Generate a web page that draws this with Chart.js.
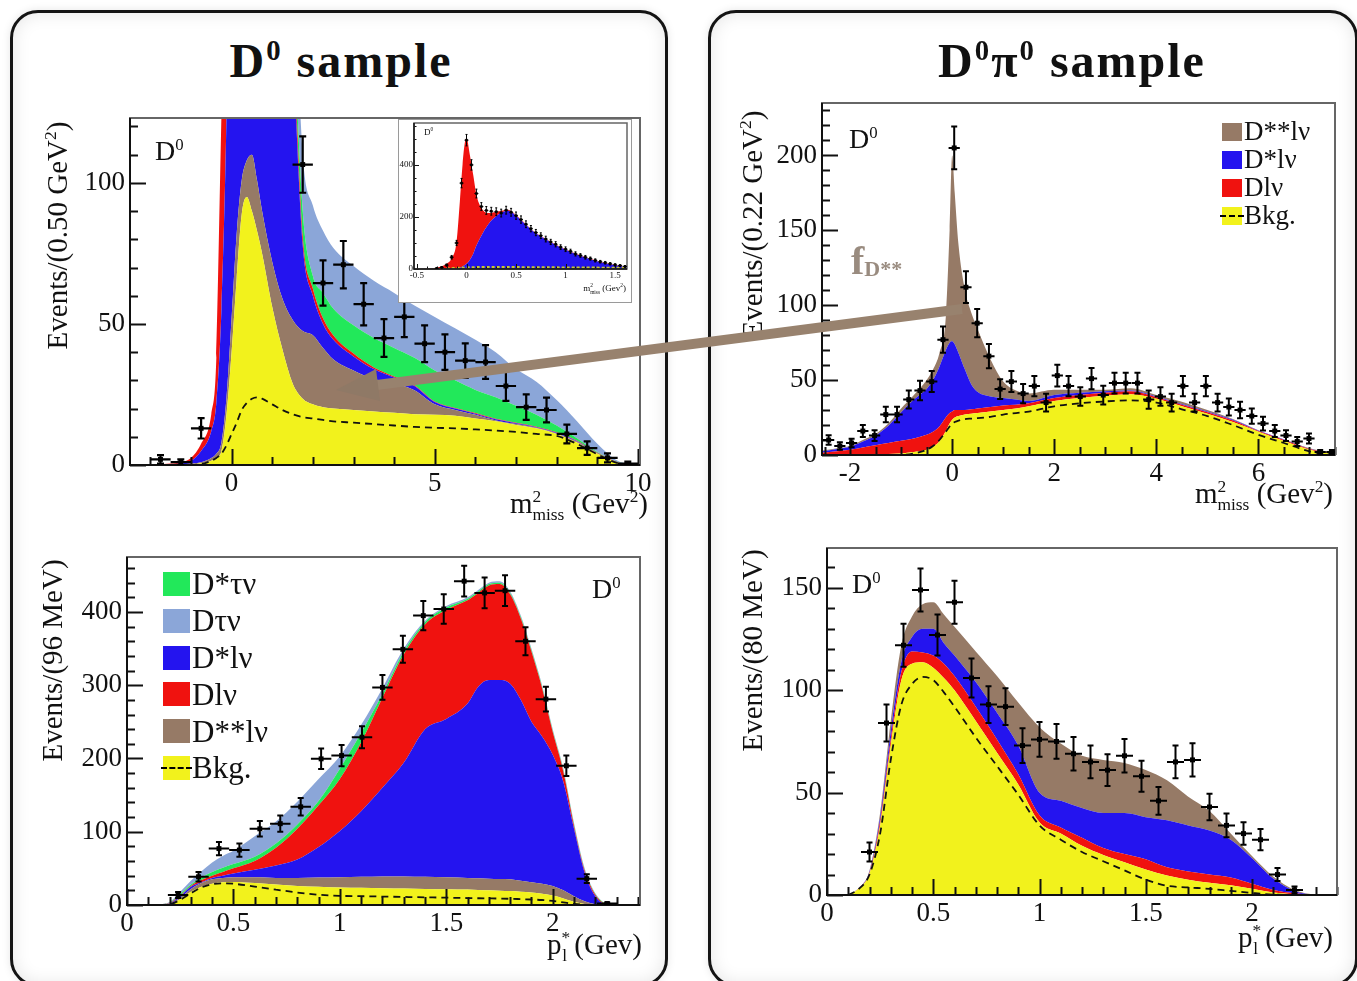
<!DOCTYPE html>
<html>
<head>
<meta charset="utf-8">
<title>D0 and D0pi0 samples</title>
<script src="https://cdn.jsdelivr.net/npm/chart.js@4.4.1/dist/chart.umd.min.js"></script>
<style>
html, body { margin: 0; padding: 0; background: #fff; }
body { position: relative; width: 1357px; height: 981px; overflow: hidden; font-family: "Liberation Serif", "Times New Roman", serif; color: #111; }
.panel { position: absolute; box-sizing: border-box; border: 3px solid #141414; border-radius: 28px; background: #fff; box-shadow: inset 0 0 18px rgba(0,0,0,0.10), 0 0 8px rgba(0,0,0,0.10); }
canvas { position: absolute; z-index: 1; }
.txt { position: absolute; white-space: nowrap; line-height: 1; z-index: 3; }
sup, sub { line-height: 0; font-size: 0.6em; }
.title { font-size: 48px; font-weight: bold; letter-spacing: 2px; text-align: center; width: 500px; }
.xt { font-size: 29px; text-align: right; }
.yt { font-size: 29px; width: 340px; text-align: center; transform: rotate(-90deg); }
.lab { font-size: 28px; }
#insetBox { position: absolute; box-sizing: border-box; left: 398px; top: 119px; width: 234px; height: 184px; border: 1px solid #9a9a9a; background: #fff; z-index: 2; }
#inset { z-index: 2; }
</style>
</head>
<body>
<div class="panel" style="left:10px;top:10px;width:658px;height:977px"></div>
<div class="panel" style="left:708px;top:10px;width:650px;height:977px"></div>

<canvas id="tl" width="630" height="437" style="left:30px;top:93px"></canvas>
<canvas id="tr" width="633" height="442" style="left:722px;top:78px"></canvas>
<canvas id="bl" width="633" height="438" style="left:27px;top:532px"></canvas>
<canvas id="br" width="630" height="437" style="left:727px;top:523px"></canvas>
<div id="insetBox"></div>
<canvas id="inset" width="232" height="188" style="left:399px;top:113px"></canvas>

<div class="txt title" style="left:91px;top:37px">D<sup>0</sup> sample</div>
<div class="txt title" style="left:822px;top:37px">D<sup>0</sup>π<sup>0</sup> sample</div>

<div class="txt yt" style="left:-113px;top:221px">Events/(0.50 GeV<sup>2</sup>)</div>
<div class="txt yt" style="left:582px;top:210px">Events/(0.22 GeV<sup>2</sup>)</div>
<div class="txt yt" style="left:-118px;top:646px">Events/(96 MeV)</div>
<div class="txt yt" style="left:582px;top:636px">Events/(80 MeV)</div>

<div class="txt xt" style="right:709px;top:489px">m<sup>2</sup><sub style="margin-left:-0.5em">miss</sub> (Gev<sup>2</sup>)</div>
<div class="txt xt" style="right:24px;top:479px">m<sup>2</sup><sub style="margin-left:-0.5em">miss</sub> (Gev<sup>2</sup>)</div>
<div class="txt xt" style="right:715px;top:930px">p<sup>*</sup><sub style="margin-left:-0.45em">l</sub> (Gev)</div>
<div class="txt xt" style="right:24px;top:923px">p<sup>*</sup><sub style="margin-left:-0.45em">l</sub> (Gev)</div>

<div class="txt lab" style="left:155px;top:137px">D<sup>0</sup></div>
<div class="txt lab" style="left:849px;top:125px">D<sup>0</sup></div>
<div class="txt lab" style="left:592px;top:575px">D<sup>0</sup></div>
<div class="txt lab" style="left:852px;top:570px">D<sup>0</sup></div>
<div class="txt" style="left:424px;top:128px;font-size:9px">D<sup>0</sup></div>
<div class="txt" style="right:731px;top:284px;font-size:9px">m<sup>2</sup><sub style="margin-left:-0.5em">miss</sub> (Gev<sup>2</sup>)</div>
<div class="txt" style="left:851px;top:241px;font-size:40px;font-weight:bold;color:rgba(128,110,95,0.8)">f<sub style="font-size:0.55em;vertical-align:-0.1em">D**</sub></div>

<svg width="1357" height="981" style="position:absolute;left:0;top:0;z-index:5;pointer-events:none">
  <line x1="962" y1="309" x2="377" y2="385" stroke="#98826e" stroke-width="10"/>
  <polygon points="336,390 380,401 376,369" fill="#8f7966"/>
</svg>

<script>
// ---------- colours ----------
const cYel = '#f2f21c', cBrown = '#967a66', cBlue = '#2414ef', cRed = '#f0120f', cGreen = '#22e85a', cLBlue = '#8ba6d8';

// ---------- top left: D0 sample, m2miss ----------
const tlX = [-2.5, -2, -1.5, -1.25, -1, -0.75, -0.5, -0.375, -0.25, -0.125, 0, 0.125, 0.25, 0.375, 0.5, 0.625, 0.75, 1, 1.25, 1.5, 1.75, 2, 2.25, 2.5, 3, 3.5, 4, 4.5, 5, 5.5, 6, 6.5, 7, 7.5, 8, 8.5, 9, 9.5, 10];
const tlBkg = [0, 0, 0, 0, 0.2, 0.6, 1.5, 2.5, 5, 18, 40, 66, 89, 95, 90, 83, 75, 56, 41, 29, 23.5, 21.5, 20.5, 20, 19.5, 19, 18.5, 18, 17.8, 17.5, 16.5, 15.5, 14.2, 13, 11, 8, 4, 0.8, 0];
const tlDss = [0, 0, 0, 0.2, 0.5, 1, 2.5, 4, 8, 24, 52, 82, 101, 108, 110, 101, 90, 72, 59, 51.5, 47.5, 46, 41.5, 37.5, 33.5, 30.5, 29, 26.5, 21.5, 19.5, 17.8, 15.8, 14.5, 13.2, 11.2, 8.2, 4.1, 0.85, 0];
const tlDs = [0, 0, 0.2, 0.5, 1.5, 5, 12, 22, 55, 124, 250, 350, 400, 420, 410, 390, 360, 300, 220, 150, 78, 60, 50, 44.5, 38.5, 34, 31, 28, 22.3, 20, 18.2, 16.2, 14.8, 13.4, 11.4, 8.4, 4.2, 0.9, 0];
const tlD = [0, 0.1, 0.5, 1, 2.5, 7.5, 18, 38, 124, 210, 310, 360, 410, 430, 420, 400, 370, 310, 230, 158, 81, 62.5, 52, 46, 39.5, 34.6, 31.4, 28.3, 22.5, 20.2, 18.4, 16.4, 15, 13.6, 11.6, 8.6, 4.3, 1, 0];
const tlDsTau = [0, 0.1, 0.5, 1, 2.5, 7.5, 18, 38, 124, 210, 310, 360, 410, 430, 420, 400, 370, 312, 235, 165, 90, 67, 61, 55.5, 49.5, 45, 41.5, 38, 33.5, 30, 26.6, 24, 21, 17.8, 14, 9.5, 4.6, 1.1, 0];
const tlDTau = [0, 0.1, 0.5, 1, 2.5, 7.5, 18, 38, 124, 210, 310, 360, 410, 430, 420, 400, 370, 330, 260, 190, 110, 92, 83, 77, 70.5, 65.3, 61, 56.5, 52.5, 48.5, 44.4, 40, 34, 29.5, 23, 15.5, 7.5, 1.5, 0];
const tlDash = [0, 0, 0, 0, 0, 0.3, 1.5, 2.5, 4, 7, 11, 15, 19.5, 22, 23.5, 24, 23.5, 21.5, 19.5, 18, 17, 16.5, 16, 15.5, 15, 14.5, 14, 13.5, 13.2, 13, 12.6, 12.2, 11.7, 11, 10.3, 7.5, 3.8, 0.7, 0];
const tlPtX = [-1.75, -1.25, -0.75, 1.75, 2.25, 2.75, 3.25, 3.75, 4.25, 4.75, 5.25, 5.75, 6.25, 6.75, 7.25, 7.75, 8.25, 8.75, 9.25, 9.75];
const tlPtY = [2, 1, 13, 106.5, 64.5, 71, 57, 45, 52.5, 43, 40, 37, 36.5, 28, 20.5, 19.5, 11, 6, 2.5, 0.5];
const tlPtErr = [1.5, 1, 3.6, 10, 8, 8.4, 7.5, 6.7, 7.2, 6.5, 6.3, 6.1, 6, 5.3, 4.5, 4.4, 3.3, 2.4, 1.6, 0.7];
const tlXTicks = [0, 5, 10], tlYTicks = [0, 50, 100];

// ---------- inset: D0 sample, normalisation region ----------
const inX = [-0.53, -0.4, -0.3, -0.2, -0.15, -0.1, -0.067, -0.04, -0.017, 0, 0.033, 0.067, 0.1, 0.15, 0.217, 0.317, 0.417, 0.517, 0.6, 0.683, 0.85, 1.017, 1.183, 1.35, 1.517, 1.62];
const inTotal = [0, 1, 5, 20, 41, 105, 260, 401, 485, 502, 440, 363, 285, 234, 215, 221, 228, 202, 172, 144, 105, 73, 48, 28, 15, 9];
const inBlue = [0, 0, 0, 0, 0, 2, 5, 10, 15, 20, 35, 58, 90, 128, 170, 208, 224, 199, 170, 142, 103, 71, 46, 26, 13, 7];
const inBkgX = [-0.2, 0, 0.2, 0.4, 0.6, 0.8, 1.0, 1.2, 1.4, 1.6];
const inBkgY = [2, 6, 8, 8, 7, 7, 6, 6, 5, 5];
const inPtX = [-0.3, -0.25, -0.2, -0.15, -0.1, -0.05, 0, 0.05, 0.1, 0.15, 0.2, 0.25, 0.3, 0.35, 0.4, 0.45, 0.5, 0.55, 0.6, 0.65, 0.7, 0.75, 0.8, 0.85, 0.9, 0.95, 1.0, 1.05, 1.1, 1.15, 1.2, 1.25, 1.3, 1.35, 1.4, 1.45, 1.5, 1.55, 1.6];
const inPtY = [3, 6, 15, 45, 100, 330, 495, 400, 290, 240, 225, 222, 220, 215, 226, 218, 205, 190, 172, 155, 140, 128, 115, 104, 95, 84, 76, 68, 58, 52, 45, 40, 33, 28, 24, 20, 16, 13, 10];
const inPtErr = [2, 3, 4, 7, 10, 18, 22, 20, 17, 15, 15, 15, 15, 15, 15, 15, 14, 14, 13, 12, 12, 11, 11, 10, 10, 9, 9, 8, 8, 7, 7, 6, 6, 5, 5, 4.5, 4, 3.6, 3.2];
const inXTicks = [-0.5, 0, 0.5, 1, 1.5], inYTicks = [0, 200, 400];

// ---------- top right: D0pi0 sample, m2miss ----------
const trX = [-2.55, -2.25, -2, -1.75, -1.5, -1.25, -1, -0.75, -0.5, -0.375, -0.25, -0.125, -0.05, 0, 0.05, 0.125, 0.25, 0.375, 0.5, 0.75, 1, 1.25, 1.5, 2, 2.5, 3, 3.5, 4, 4.5, 5, 5.5, 6, 6.5, 7, 7.5];
const trBkg = [0.5, 0.5, 0.5, 0.5, 0.5, 0.7, 1, 2, 3.5, 5.5, 9, 16, 21, 23.5, 25, 26, 27, 27.5, 28, 29, 30, 31, 32.5, 36, 38, 39.5, 40.5, 37.5, 32.5, 27.5, 22, 15.5, 9.3, 3.5, 0.5];
const trD = [1.5, 2.5, 3.5, 5, 6.5, 8, 9.5, 11, 13.5, 15.5, 19, 25, 28, 29, 30, 30, 30, 30.5, 31, 32, 33, 33.5, 34.5, 38, 40, 41.5, 42.5, 38.5, 33.5, 28.5, 23, 16, 10, 4, 0.7];
const trDs = [2.5, 4, 5.5, 9, 13, 19.5, 28.5, 37, 44, 50, 59, 70, 75, 76, 74, 68, 57, 47, 42, 39, 38, 37, 36, 40, 41.5, 42.5, 43, 39, 34, 29, 23.5, 16.3, 10.3, 4.2, 0.8];
const trDss = [3, 4.5, 6, 10, 14, 21, 31, 40, 50, 57, 68, 92, 150, 200, 175, 140, 110, 95, 84, 64, 49, 43, 41, 43.5, 43.5, 43.5, 44.5, 40, 35.5, 30, 24, 16.5, 10.5, 4.5, 1];
const trDash = [0, 0, 0, 0, 0, 0, 0, 1, 3.5, 6, 10, 15.5, 19, 21, 22, 23, 24, 24.3, 24.6, 25.5, 27, 28, 29, 32.5, 34.5, 35.8, 36.5, 35, 30.5, 26, 20, 13.5, 8, 2.5, 0];
const trPtX = [-2.42, -2.2, -1.97, -1.75, -1.52, -1.3, -1.08, -0.85, -0.63, -0.4, -0.18, 0.04, 0.27, 0.49, 0.72, 0.94, 1.16, 1.39, 1.61, 1.84, 2.06, 2.28, 2.51, 2.73, 2.96, 3.18, 3.4, 3.63, 3.85, 4.08, 4.3, 4.52, 4.75, 4.97, 5.2, 5.42, 5.64, 5.87, 6.09, 6.32, 6.54, 6.76, 6.99, 7.21, 7.44];
const trPtY = [10, 6, 8, 16, 13, 27, 27, 37, 43, 49, 77, 205, 112, 88, 66, 44, 49, 41, 46, 35, 53, 46, 39, 51, 40, 48, 48, 48, 37, 39, 35, 46, 35, 46, 35, 32, 30, 26, 21, 16, 13, 9, 11, 2, 2];
const trPtErr = [3.2, 2.5, 2.8, 4, 3.6, 5.2, 5.2, 6, 6.5, 7, 8.8, 14.3, 10.6, 9.4, 8.1, 6.6, 7, 6.4, 6.8, 5.9, 7.3, 6.8, 6.2, 7.1, 6.3, 6.9, 6.9, 6.9, 6.1, 6.2, 5.9, 6.8, 5.9, 6.8, 5.9, 5.7, 5.5, 5.1, 4.6, 4, 3.6, 3, 3.3, 1.4, 1.4];
const trXTicks = [-2, 0, 2, 4, 6], trYTicks = [0, 50, 100, 150, 200];

// ---------- bottom left: D0 sample, lepton momentum ----------
const blX = [0.15, 0.2, 0.25, 0.3, 0.35, 0.4, 0.45, 0.5, 0.6, 0.7, 0.8, 0.9, 1.0, 1.1, 1.2, 1.3, 1.4, 1.5, 1.6, 1.65, 1.7, 1.75, 1.8, 1.85, 1.9, 1.95, 2.0, 2.05, 2.1, 2.15, 2.2, 2.25, 2.3];
const blBkg = [0, 1.5, 8, 18, 25, 29, 31, 31.5, 30, 28, 26, 25, 24, 23.5, 23, 22.5, 22, 21.5, 21, 20.5, 20, 19.5, 19, 18, 17, 15.5, 13, 9, 4.5, 1.5, 0, 0, 0];
const blDss = [0, 2, 10, 22, 30, 35, 37, 38, 38, 37, 37, 37.5, 38, 38.5, 39, 39, 38.5, 38, 37, 36.5, 36, 35.5, 35, 33, 31, 29, 26, 20, 12, 5, 1, 0, 0];
const blDs = [0, 2.5, 12, 25, 31, 37, 40, 43, 48, 54, 62, 79, 101, 128, 160, 194, 240, 254, 275, 298, 307, 307, 302, 280, 250, 230, 205, 168, 104, 44, 12, 1, 0];
const blD = [0, 3, 13, 26, 34, 40, 45, 50, 60, 78, 104, 136, 172, 222, 283, 342, 383, 403, 416, 426, 436, 438, 424, 391, 346, 296, 236, 182, 108, 47, 14, 1.5, 0];
const blDsTau = [0, 3.5, 15, 28, 38, 45, 51, 56, 66, 84, 110, 142, 186, 235, 288, 346, 386, 406, 418, 428, 438, 440, 426, 393, 348, 298, 238, 184, 110, 48, 15, 2, 0];
const blDTau = [0, 4, 18, 33, 46, 58, 67, 74, 94, 114, 141, 172, 203, 246, 296, 350, 388, 408, 420, 430, 440, 442, 428, 395, 350, 300, 240, 186, 112, 50, 16, 2, 0];
const blDash = [0, 1, 7, 16, 24, 28.5, 29.5, 29, 25, 21, 17, 14, 12.5, 12, 11.5, 11, 10.5, 10, 9.5, 9.2, 9, 8.8, 8.5, 8, 7.5, 6.8, 5.5, 3.5, 1.5, 0.3, 0, 0, 0];
const blPtX = [0.24, 0.336, 0.432, 0.528, 0.624, 0.72, 0.816, 0.912, 1.008, 1.104, 1.2, 1.296, 1.392, 1.488, 1.584, 1.68, 1.776, 1.872, 1.968, 2.064, 2.16, 2.256];
const blPtY = [13.6, 38.5, 77, 75, 104, 111, 134, 199.5, 204, 229, 297, 349, 395, 404, 442, 426, 429, 360, 281, 190, 36, 2];
const blPtErr = [4, 6.5, 9, 9, 10.5, 11, 12, 14, 14.5, 15, 17, 18.5, 20, 20, 21, 21, 21, 19, 17, 14, 6, 1.5];
const blXTicks = [0, 0.5, 1, 1.5, 2], blYTicks = [0, 100, 200, 300, 400];

// ---------- bottom right: D0pi0 sample, lepton momentum ----------
const brX = [0.1, 0.15, 0.2, 0.25, 0.3, 0.35, 0.4, 0.45, 0.5, 0.55, 0.6, 0.7, 0.8, 0.9, 1.0, 1.1, 1.2, 1.3, 1.4, 1.5, 1.6, 1.7, 1.8, 1.9, 2.0, 2.1, 2.2, 2.3, 2.4];
const brBkg = [0, 3.2, 10.5, 34, 73, 105, 113, 113.7, 111, 106, 100, 85, 69.5, 54, 35.5, 30, 24, 19.5, 16, 12.5, 9.5, 7.5, 6, 4.8, 3, 1.2, 0.3, 0, 0];
const brD = [0, 3.3, 11, 36, 76, 109, 119, 118.5, 117, 113, 107, 92, 76, 59, 39, 33, 28, 23, 20, 17.5, 13.5, 11.5, 10, 8.5, 5.5, 2.5, 0.8, 0.1, 0];
const brDs = [0, 3.4, 11.5, 38, 80, 114, 126, 130, 130, 123, 117, 104, 89, 73, 50, 46, 42.5, 40, 40, 38, 36.5, 34, 31.5, 27, 18, 8, 2, 0.2, 0];
const brDss = [0, 3.5, 12, 40, 85, 122, 136, 142, 143, 137, 131, 119, 107, 94, 82, 74, 68, 66, 64.5, 61, 56, 48, 41, 30, 19, 9, 2.5, 0.3, 0];
const brDash = [0, 3, 10, 30, 66, 93, 103, 106.5, 105, 99, 92, 77, 63, 49, 34, 27, 21, 16.5, 12, 7.5, 4.5, 3.7, 3, 2, 1, 0.2, 0, 0, 0];
const brPtX = [0.2, 0.28, 0.36, 0.44, 0.52, 0.6, 0.68, 0.76, 0.84, 0.92, 1.0, 1.08, 1.16, 1.24, 1.32, 1.4, 1.48, 1.56, 1.64, 1.72, 1.8, 1.88, 1.96, 2.04, 2.12, 2.2];
const brPtY = [21, 84, 122, 149, 127, 143, 106, 93, 92, 73, 76, 75, 69, 65, 61, 68, 58, 46, 65, 66, 43, 34, 30, 27, 10, 2.5];
const brPtErr = [4.6, 9, 10.5, 10.5, 10, 10.5, 9.5, 9, 9, 8.5, 8.5, 8.5, 8.2, 8, 7.8, 8.2, 7.6, 6.8, 8, 8.1, 6.5, 5.8, 5.5, 5.2, 3.2, 1.6];
const brXTicks = [0, 0.5, 1, 1.5, 2], brYTicks = [0, 50, 100, 150];

// ---------- legends ----------
const blLegNames = ['D*τν', 'Dτν', 'D*lν', 'Dlν', 'D**lν', 'Bkg.'];
const blLegColors = [cGreen, cLBlue, cBlue, cRed, cBrown, cYel];
const trLegNames = ['D**lν', 'D*lν', 'Dlν', 'Bkg.'];
const trLegColors = [cBrown, cBlue, cRed, cYel];

const pts = (xs, ys) => xs.map((x, i) => ({ x: x, y: ys[i] }));

function area(xs, ys, color, fill) {
  return { data: pts(xs, ys), backgroundColor: color, borderColor: color, borderWidth: 0, pointRadius: 0, fill: fill, cubicInterpolationMode: 'monotone' };
}
function dashed(xs, ys, color, w, dash) {
  return { data: pts(xs, ys), borderColor: color, borderWidth: w, borderDash: dash, pointRadius: 0, fill: false, cubicInterpolationMode: 'monotone', order: -1 };
}
function points(xs, ys, err, ex, r, lw, cap) {
  return { data: pts(xs, ys), showLine: false, pointStyle: 'rect', pointRadius: r, pointBackgroundColor: '#000', pointBorderWidth: 0, fill: false, order: -2, errY: err, errX: ex, errLine: lw, cap: cap };
}

// inward ROOT-style ticks and the frame
const frameTicks = {
  id: 'frameTicks',
  afterDatasetsDraw(chart, args, o) {
    const { ctx, chartArea: a, scales: { x, y } } = chart;
    const isMajor = (s, v) => s.ticks.some(t => Math.abs(t.value - v) < 1e-6);
    ctx.save();
    ctx.strokeStyle = '#111';
    ctx.lineWidth = o.tw;
    ctx.beginPath();
    for (let k = Math.ceil(y.min / o.ym - 1e-9); k * o.ym <= y.max + 1e-9; k++) {
      const v = k * o.ym, p = Math.round(y.getPixelForValue(v)) + 0.5;
      ctx.moveTo(a.left, p); ctx.lineTo(a.left + (isMajor(y, v) ? o.big : o.small), p);
    }
    for (let k = Math.ceil(x.min / o.xm - 1e-9); k * o.xm <= x.max + 1e-9; k++) {
      const v = k * o.xm, p = Math.round(x.getPixelForValue(v)) + 0.5;
      ctx.moveTo(p, a.bottom); ctx.lineTo(p, a.bottom - (isMajor(x, v) ? o.big : o.small));
    }
    ctx.stroke();
    ctx.strokeStyle = '#666';
    ctx.lineWidth = o.fw;
    ctx.strokeRect(a.left, a.top, a.right - a.left, a.bottom - a.top);
    ctx.strokeStyle = '#111';
    ctx.beginPath();
    ctx.moveTo(a.left, a.top); ctx.lineTo(a.left, a.bottom); ctx.lineTo(a.right, a.bottom);
    ctx.stroke();
    ctx.restore();
  }
};

const errorBars = {
  id: 'errorBars',
  afterDatasetsDraw(chart) {
    const { ctx, chartArea: a, scales: { x, y } } = chart;
    ctx.save();
    ctx.beginPath();
    ctx.rect(a.left, a.top, a.right - a.left, a.bottom - a.top);
    ctx.clip();
    chart.data.datasets.forEach(ds => {
      if (!ds.errY) return;
      ctx.strokeStyle = '#000';
      ctx.lineWidth = ds.errLine;
      ctx.beginPath();
      ds.data.forEach((p, i) => {
        const px = x.getPixelForValue(p.x), py = y.getPixelForValue(p.y);
        const lo = y.getPixelForValue(p.y - ds.errY[i]), hi = y.getPixelForValue(p.y + ds.errY[i]);
        ctx.moveTo(x.getPixelForValue(p.x - ds.errX), py);
        ctx.lineTo(x.getPixelForValue(p.x + ds.errX), py);
        ctx.moveTo(px, lo); ctx.lineTo(px, hi);
        ctx.moveTo(px - ds.cap, lo); ctx.lineTo(px + ds.cap, lo);
        ctx.moveTo(px - ds.cap, hi); ctx.lineTo(px + ds.cap, hi);
      });
      ctx.stroke();
    });
    ctx.restore();
  }
};

function makeChart(id, g, datasets, ax) {
  const font = { family: '"Liberation Serif", serif', size: ax.fs };
  return new Chart(document.getElementById(id), {
    type: 'line',
    data: { datasets: datasets },
    options: {
      responsive: false,
      animation: false,
      events: [],
      layout: { padding: { top: g.pt, right: g.pr, left: 0, bottom: 0 } },
      plugins: { legend: { display: false }, tooltip: { enabled: false }, frameTicks: ax.frame },
      scales: {
        x: {
          type: 'linear', min: ax.xmin, max: ax.xmax,
          grid: { display: false, drawTicks: false }, border: { display: false },
          ticks: { font: font, color: '#111', padding: ax.xpad, maxRotation: 0, autoSkip: false, callback: v => String(v) },
          afterBuildTicks: s => { s.ticks = ax.xticks.map(v => ({ value: v })); },
          afterFit: s => { s.height = g.xh; }
        },
        y: {
          type: 'linear', min: ax.ymin, max: ax.ymax,
          grid: { display: false, drawTicks: false }, border: { display: false },
          ticks: { font: font, color: '#111', padding: ax.ypad, autoSkip: false, callback: v => String(v) },
          afterBuildTicks: s => { s.ticks = ax.yticks.map(v => ({ value: v })); },
          afterFit: s => { s.width = g.yw; }
        }
      }
    },
    plugins: [frameTicks, errorBars]
  });
}

const bigFrame = (xm, ym) => ({ xm: xm, ym: ym, big: 16, small: 8, tw: 2, fw: 2 });

makeChart('tl', { yw: 100, xh: 65, pt: 25, pr: 20 }, [
  area(tlX, tlBkg, cYel, 'origin'),
  area(tlX, tlDss, cBrown, '-1'),
  area(tlX, tlDs, cBlue, '-1'),
  area(tlX, tlD, cRed, '-1'),
  area(tlX, tlDsTau, cGreen, '-1'),
  area(tlX, tlDTau, cLBlue, '-1'),
  dashed(tlX, tlDash, '#111', 1.8, [7, 5]),
  points(tlPtX, tlPtY, tlPtErr, 0.25, 3.5, 2.2, 3.5)
], { xmin: -2.5, xmax: 10.05, ymin: 0, ymax: 123, xticks: tlXTicks, yticks: tlYTicks, fs: 27, xpad: 3, ypad: 5, frame: bigFrame(1, 10) });

makeChart('inset', { yw: 15, xh: 32, pt: 10, pr: 4 }, [
  area(inX, inBlue, cBlue, 'origin'),
  area(inX, inTotal, cRed, '-1'),
  dashed(inBkgX, inBkgY, '#c9c92a', 2, [3, 2]),
  points(inPtX, inPtY, inPtErr, 0.02, 1.8, 1, 1)
], { xmin: -0.53, xmax: 1.62, ymin: 0, ymax: 561, xticks: inXTicks, yticks: inYTicks, fs: 9, xpad: 1, ypad: 1, frame: { xm: 0.1, ym: 50, big: 5, small: 2.5, tw: 1, fw: 1.5 } });

makeChart('tr', { yw: 100, xh: 65, pt: 25, pr: 20 }, [
  area(trX, trBkg, cYel, 'origin'),
  area(trX, trD, cRed, '-1'),
  area(trX, trDs, cBlue, '-1'),
  area(trX, trDss, cBrown, '-1'),
  dashed(trX, trDash, '#111', 1.8, [7, 5]),
  points(trPtX, trPtY, trPtErr, 0.11, 3.5, 2, 3)
], { xmin: -2.55, xmax: 7.5, ymin: 0, ymax: 235, xticks: trXTicks, yticks: trYTicks, fs: 27, xpad: 3, ypad: 5, frame: bigFrame(0.5, 10) });

makeChart('bl', { yw: 100, xh: 65, pt: 25, pr: 20 }, [
  area(blX, blBkg, cYel, 'origin'),
  area(blX, blDss, cBrown, '-1'),
  area(blX, blDs, cBlue, '-1'),
  area(blX, blD, cRed, '-1'),
  area(blX, blDsTau, cGreen, '-1'),
  area(blX, blDTau, cLBlue, '-1'),
  dashed(blX, blDash, '#111', 1.8, [7, 5]),
  points(blPtX, blPtY, blPtErr, 0.048, 3.5, 2, 3)
], { xmin: 0, xmax: 2.41, ymin: 0, ymax: 475, xticks: blXTicks, yticks: blYTicks, fs: 27, xpad: 3, ypad: 5, frame: bigFrame(0.1, 20) });

makeChart('br', { yw: 100, xh: 65, pt: 25, pr: 20 }, [
  area(brX, brBkg, cYel, 'origin'),
  area(brX, brD, cRed, '-1'),
  area(brX, brDs, cBlue, '-1'),
  area(brX, brDss, cBrown, '-1'),
  dashed(brX, brDash, '#111', 1.8, [7, 5]),
  points(brPtX, brPtY, brPtErr, 0.04, 3.5, 2, 3)
], { xmin: 0, xmax: 2.4, ymin: 0, ymax: 169.5, xticks: brXTicks, yticks: brYTicks, fs: 27, xpad: 3, ypad: 5, frame: bigFrame(0.1, 10) });

// HTML legends (boxes + text)
function legend(names, colors, left, cy0, step, bw, bh, fs) {
  names.forEach((name, i) => {
    const cy = cy0 + i * step;
    const b = document.createElement('div');
    b.style.cssText = `position:absolute;z-index:3;left:${left}px;top:${cy - bh / 2}px;width:${bw}px;height:${bh}px;background:${colors[i]}`;
    if (name === 'Bkg.') b.innerHTML = '<div style="position:absolute;left:-2px;right:-2px;top:' + (bh / 2 - 1) + 'px;border-top:2px dashed #000"></div>';
    document.body.appendChild(b);
    const t = document.createElement('div');
    t.className = 'txt';
    t.style.cssText = `left:${left + bw + 2}px;top:${(cy + 0.33 * fs - 0.8375 * fs).toFixed(1)}px;font-size:${fs}px`;
    t.textContent = name;
    document.body.appendChild(t);
  });
}
legend(blLegNames, blLegColors, 163, 584, 36.8, 27, 24, 31);
legend(trLegNames, trLegColors, 1222, 132, 28, 20, 18, 27);
</script>
</body>
</html>
